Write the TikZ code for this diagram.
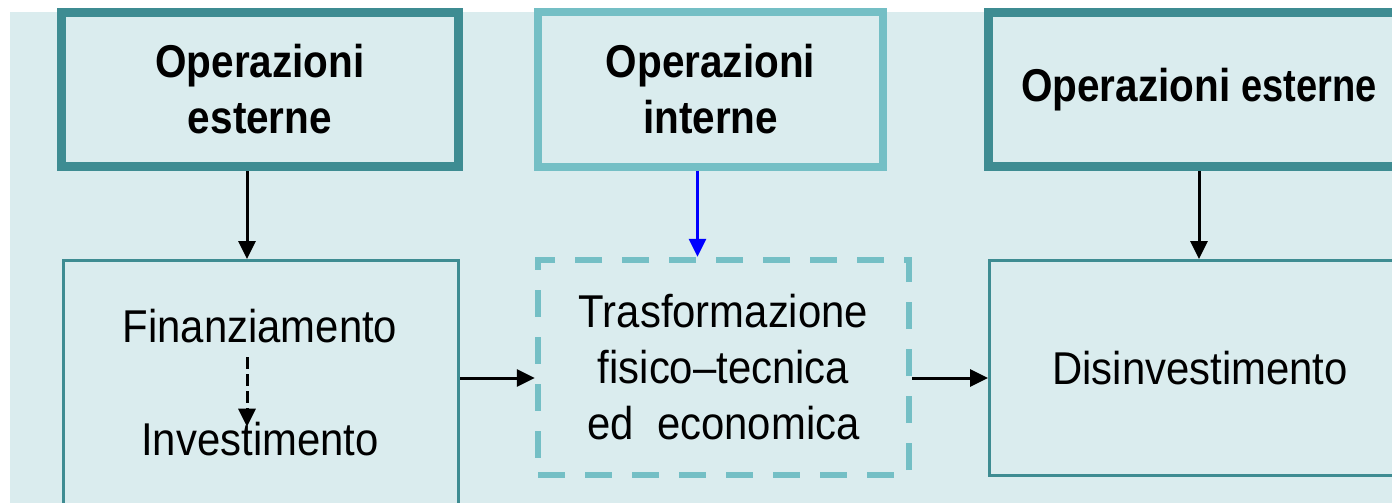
\documentclass[tikz,border=0pt]{standalone}
\usepackage{fontspec}
\setmainfont{Liberation Sans}[FakeStretch=0.91, BoldFeatures={FakeStretch=0.88}]
\usetikzlibrary{positioning, arrows.meta}
\definecolor{sfondo}{HTML}{DAECEE}
\definecolor{scuro}{HTML}{3E8C92}
\definecolor{chiaro}{HTML}{74BFC5}
\tikzset{
	testo/.style={font=\fontsize{46}{56}\selectfont, align=center},
	esterno/.style={testo, draw=scuro, line width=9pt, minimum height=154pt, font=\fontsize{46}{56}\selectfont\bfseries},
	interno/.style={esterno, draw=chiaro, line width=8pt},
	fase/.style={testo, draw=scuro, line width=3pt},
	trasf/.style={testo, draw=chiaro, line width=6.5pt, dash pattern=on 27pt off 20pt},
	voce/.style={testo, inner sep=0pt, outer sep=0pt, anchor=base},
	freccia/.style={line width=3pt, -{Triangle[length=18pt, width=17pt]}}
}
\begin{document}
\begin{tikzpicture}[x=1pt, y=-1pt]
		\useasboundingbox (0,0) rectangle (1392,503);
		\fill[sfondo] (10,12) rectangle (1392,503);
		
		\node[esterno, minimum width=397pt] (est1) at (260,89.5) {Operazioni\\esterne};
		\node[interno, minimum width=345pt] (int) at (710.5,89.5) {Operazioni\\interne};
		\node[esterno, minimum width=421pt] (est2) at (1199,89.5) {Operazioni \scalebox{0.94}[1]{esterne}};
		
		\node[fase, minimum width=395pt, minimum height=250pt] (finbox) at (261,385.5) {};
		\node[voce] (finz) at (260,342) {Finanziamento};
		\node[voce] (inv) at (260,455) {Investimento};
		\node[trasf, minimum width=371pt, minimum height=215pt] (tras) at (723.5,367.5) {Trasformazione\\fisico--tecnica\\ed~~economica};
		\node[fase, minimum width=421pt, minimum height=215pt] (dis) at (1200,368) {Disinvestimento};
		\coordinate (riga) at (0,378);
		
		\draw[freccia] ([xshift=-13pt]est1.south) -- ([xshift=-13pt]est1.south |- finbox.north);
		\draw[freccia, blue] ([xshift=-13pt]int.south) -- ([xshift=-13pt]int.south |- tras.north);
		\draw[freccia] (est2.south) -- (est2.south |- dis.north);
		\draw[freccia, dash pattern=on 12pt off 5pt, shorten <=15pt, shorten >=-5pt] ([xshift=-13pt]finz.south) -- ([xshift=-13pt]inv.north);
		\draw[freccia] (finbox.east |- riga) -- (tras.west |- riga);
		\draw[freccia] (tras.east |- riga) -- (dis.west |- riga);
		
	\end{tikzpicture}
\end{document}
